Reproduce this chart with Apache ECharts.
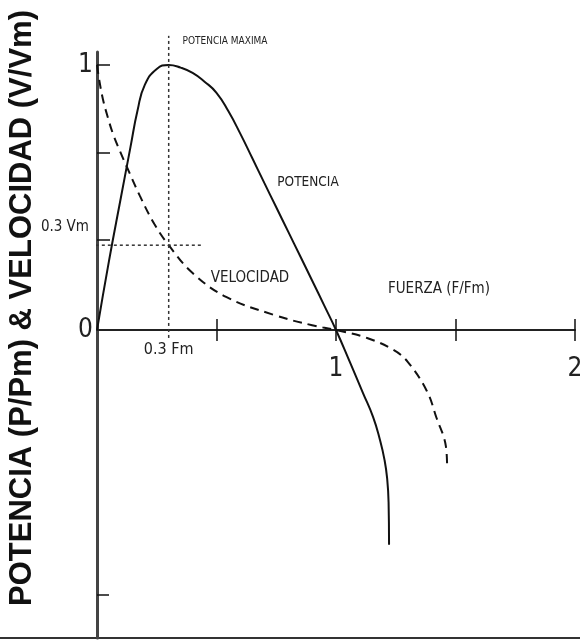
<!DOCTYPE html>
<html>
<head>
<meta charset="utf-8">
<script src="https://cdn.jsdelivr.net/npm/echarts@6/dist/echarts.min.js"></script>
<style>html,body{margin:0;padding:0;background:#fff}#c{width:580px;height:641px}</style>
</head>
<body>
<div id="c"></div>
<script>
// ---- data ----
const potenciaF = [0, 0.05, 0.10, 0.14, 0.17, 0.20, 0.25, 0.30, 0.35, 0.40, 0.45, 0.50, 0.55, 0.60, 0.65, 0.70, 0.75, 0.80, 0.85, 0.90, 0.95, 1.00, 1.06, 1.113, 1.155, 1.184, 1.203, 1.214, 1.220, 1.222];
const potenciaP = [0, 0.26, 0.50, 0.69, 0.83, 0.925, 0.985, 1.00, 0.99, 0.97, 0.937, 0.895, 0.825, 0.74, 0.648, 0.555, 0.463, 0.371, 0.279, 0.187, 0.094, 0, -0.125, -0.238, -0.328, -0.415, -0.49, -0.56, -0.65, -0.81];
const velocidadF = [0, 0.01, 0.025, 0.046, 0.067, 0.096, 0.125, 0.18, 0.24, 0.30, 0.40, 0.54, 0.74, 0.90, 1.00, 1.13, 1.24, 1.30, 1.38, 1.42, 1.46, 1.465];
const velocidadV = [1.0, 0.94, 0.87, 0.80, 0.74, 0.675, 0.615, 0.505, 0.40, 0.32, 0.215, 0.125, 0.057, 0.018, 0, -0.03, -0.075, -0.12, -0.23, -0.33, -0.44, -0.52];
const fuerzaPotMax = 0.3;        // F/Fm at maximum power
const velocidadAtPotMax = 0.32;  // V/Vm at maximum power
const guideVertRange = [-0.03, 1.11];
const guideHorzRange = [-0.03, 0.44];
const xTickValues = [0.5, 1, 1.5, 2];
const xLabelValues = [0.3, 1, 2];
const xLabelTexts = ['0.3 Fm', '1', '2'];
const yTickValues = [1, 0.667, 0.34];
const yTickValuesNeg = [-1];
const yLabelValues = [1, 0.34, 0];
const yLabelTexts = ['1', '0.3 Vm', '0'];
const xMin = 0, xMax = 2, yMin = -1.162, yMax = 1.049;

const zip = (a, b) => a.map((v, i) => [v, b[i]]);
const NARROW = "'Liberation Sans Narrow','DejaVu Sans Condensed',sans-serif";

const chart = echarts.init(document.getElementById('c'), null, {renderer: 'canvas'});
const option = {
  animation: false,
  backgroundColor: '#fff',
  grid: [
    {left: 97, right: 5, top: 52, bottom: 311, containLabel: false, outerBoundsMode: 'none'},
    {left: 97, right: 5, top: 330, bottom: 3, containLabel: false, outerBoundsMode: 'none'}
  ],
  xAxis: [{
    gridIndex: 0, type: 'value', min: xMin, max: xMax, position: 'bottom',
    axisLine: {show: true, lineStyle: {color: '#222', width: 2}},
    axisTick: {show: true, inside: false, length: 11, customValues: xTickValues, lineStyle: {color: '#111', width: 1.5}},
    splitLine: {show: false},
    axisLabel: {
      show: true, margin: 12, customValues: xLabelValues, hideOverlap: false,
      formatter: v => { const i = xLabelValues.indexOf(v); const t = xLabelTexts[i]; return t.length > 2 ? '{sm|' + t + '}' : '{big|' + t + '}'; },
      rich: {
        sm: {fontFamily: NARROW, fontSize: 16, color: '#222'},
        big: {fontFamily: NARROW, fontSize: 26, color: '#222', padding: [14, 0, 0, 0]}
      }
    }
  }, {
    gridIndex: 0, type: 'value', min: xMin, max: xMax, position: 'bottom',
    axisLine: {show: false},
    axisTick: {show: true, inside: true, length: 11, customValues: xTickValues, lineStyle: {color: '#111', width: 1.5}},
    splitLine: {show: false},
    axisLabel: {show: false}
  }, {
    gridIndex: 1, type: 'value', min: xMin, max: xMax, show: false
  }],
  yAxis: [{
    gridIndex: 0, type: 'value', min: 0, max: yMax,
    axisLine: {show: true, lineStyle: {color: '#444', width: 3}},
    axisTick: {show: true, inside: true, length: 13, customValues: yTickValues, lineStyle: {color: '#111', width: 1.5}},
    splitLine: {show: false},
    axisLabel: {
      show: true, margin: 4, customValues: yLabelValues, hideOverlap: false,
      formatter: v => { const i = yLabelValues.indexOf(v); const t = yLabelTexts[i]; return t.length > 2 ? '{sm|' + t + '}' : '{big|' + t + '}'; },
      rich: {
        sm: {fontFamily: NARROW, fontSize: 15, color: '#222', padding: [0, 4, 26, 0]},
        big: {fontFamily: NARROW, fontSize: 26, color: '#222'}
      }
    }
  }, {
    gridIndex: 1, type: 'value', min: yMin, max: 0,
    axisLine: {show: true, lineStyle: {color: '#444', width: 3}},
    axisTick: {show: true, inside: true, length: 12, customValues: yTickValuesNeg, lineStyle: {color: '#111', width: 1.5}},
    splitLine: {show: false},
    axisLabel: {show: false}
  }],
  series: [
    {
      name: 'POTENCIA', type: 'line', xAxisIndex: 0, yAxisIndex: 0,
      data: zip(potenciaF, potenciaP), smooth: 0.5, symbol: 'none', clip: false,
      lineStyle: {color: '#111', width: 2}
    },
    {
      name: 'VELOCIDAD', type: 'line', xAxisIndex: 0, yAxisIndex: 0,
      data: zip(velocidadF, velocidadV), smooth: 0.4, symbol: 'none', clip: false,
      lineStyle: {color: '#111', width: 2, type: [9, 6]}
    },
    {
      name: 'guiaV', type: 'line', xAxisIndex: 0, yAxisIndex: 0,
      data: guideVertRange.map(y => [fuerzaPotMax, y]), symbol: 'none', clip: false,
      lineStyle: {color: '#333', width: 1.5, type: [3, 3]}
    },
    {
      name: 'guiaH', type: 'line', xAxisIndex: 0, yAxisIndex: 0,
      data: guideHorzRange.map(x => [x, velocidadAtPotMax]), symbol: 'none', clip: false,
      lineStyle: {color: '#333', width: 1.5, type: [3, 3]}
    }
  ],
  graphic: [
    {type: 'line', shape: {x1: 0, y1: 638, x2: 580, y2: 638}, style: {stroke: '#333', lineWidth: 2}},
    {type: 'text', x: 22, y: 308, rotation: Math.PI / 2,
      style: {text: 'POTENCIA (P/Pm) & VELOCIDAD (V/Vm)', font: "bold 31px 'Liberation Sans', Arial, sans-serif", fill: '#111', align: 'center', verticalAlign: 'middle'}},
    {type: 'text', x: 225, y: 41,
      style: {text: 'POTENCIA MAXIMA', font: "10px " + NARROW, fill: '#222', align: 'center', verticalAlign: 'middle'}},
    {type: 'text', x: 308, y: 182,
      style: {text: 'POTENCIA', font: "13.5px " + NARROW, fill: '#222', align: 'center', verticalAlign: 'middle'}},
    {type: 'text', x: 250, y: 278,
      style: {text: 'VELOCIDAD', font: "15px " + NARROW, fill: '#222', align: 'center', verticalAlign: 'middle'}},
    {type: 'text', x: 439, y: 289,
      style: {text: 'FUERZA (F/Fm)', font: "15px " + NARROW, fill: '#222', align: 'center', verticalAlign: 'middle'}}
  ]
};
chart.setOption(option);
</script>
</body>
</html>
